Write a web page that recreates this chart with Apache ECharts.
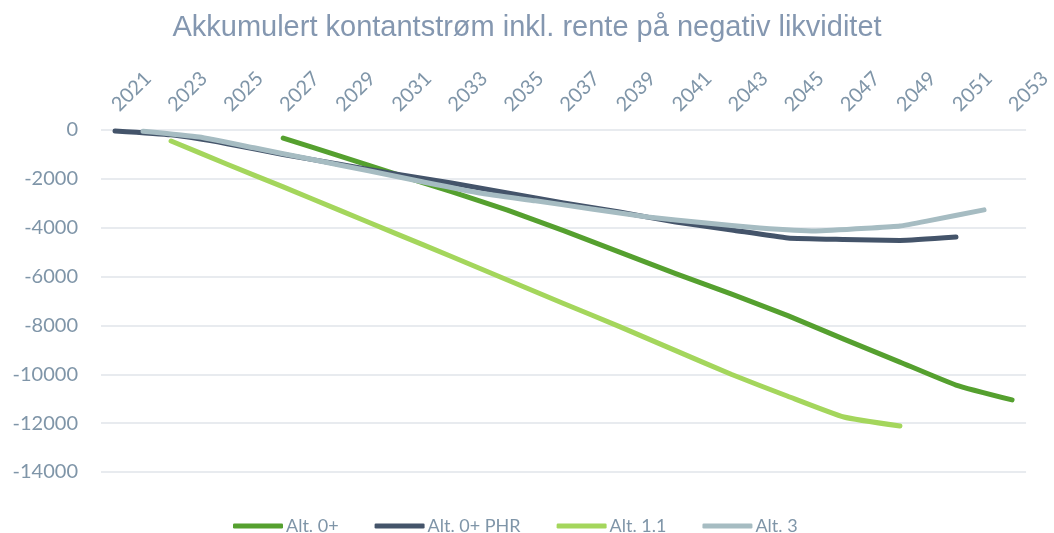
<!DOCTYPE html>
<html>
<head>
<meta charset="utf-8">
<script src="https://cdn.jsdelivr.net/npm/echarts@6/dist/echarts.min.js"></script>
<style>
  html, body { margin: 0; padding: 0; background: #fff; }
  #chart { width: 1054px; height: 533px; }
</style>
</head>
<body>
<div id="chart"></div>
<script>
const years = []
for (let y = 2021; y <= 2053; y++) years.push(String(y))

const seriesNames = ['Alt. 0+', 'Alt. 0+ PHR', 'Alt. 1.1', 'Alt. 3']
const seriesColors = ['#55a02f', '#44546a', '#a4d65c', '#a6bcc2']

// verdier lest av bildet, null = ikke avlest / ingen data
const alt0 = [
  null, null, null, null, null, null,
  -330, null, -1060, null, -1800, null, -2520, null, -3280, null, -4120, null,
  -5000, null, -5880, null, -6720, null, -7600, null, -8560, null, -9500, null,
  -10440, null, -11050
]
const alt0phr = [
  -40, null, -200, null, -560, null, -1000, null, -1400, null, -1800, null,
  -2170, null, -2580, null, -2990, null, -3360, null, -3770, null, -4090, null,
  -4420, null, -4480, null, -4520, null, -4380, null, null
]
const alt11 = [
  null, null, -450, null, -1400, null, -2330, null, -3280, null, -4230, null,
  -5180, null, -6140, null, -7100, null, -8050, null, -9030, null, -10010, null,
  -10900, null, -11750, null, -12120, null, null, null, null
]
const alt3 = [
  null, -50, null, -290, null, -740, null, -1200, null, -1660, null, -2130,
  null, -2580, null, -2900, null, -3230, null, -3560, null, -3800, null, -4010,
  null, -4130, null, -4010, -3930, -3720, null, -3270, null
]
const seriesData = [alt0, alt0phr, alt11, alt3]

const textColor = '#7f95a8'
const font = 'Lato'

const chart = echarts.init(document.getElementById('chart'))
chart.setOption({
  title: {
    text: 'Akkumulert kontantstrøm inkl. rente på negativ likviditet',
    left: 'center',
    top: 8,
    textStyle: {
      fontFamily: 'Liberation Sans',
      fontSize: 29,
      fontWeight: 'normal',
      color: '#8497b0'
    }
  },
  legend: {
    data: seriesNames,
    left: 228,
    top: 512,
    icon: 'roundRect',
    itemWidth: 50,
    itemHeight: 5,
    itemGap: 36,
    textStyle: { color: textColor, fontSize: 18, fontFamily: font, padding: [0, 0, 0, -2] }
  },
  grid: { left: 101, right: 24, top: 130, bottom: 61 },
  xAxis: {
    type: 'category',
    position: 'top',
    data: years,
    boundaryGap: true,
    axisLine: { show: false },
    axisTick: { show: false },
    axisLabel: {
      interval: 1,
      rotate: 45,
      margin: 22,
      color: textColor,
      fontSize: 20,
      fontFamily: font
    }
  },
  yAxis: {
    type: 'value',
    min: -14000,
    max: 0,
    interval: 2000,
    axisLine: { show: false },
    axisTick: { show: false },
    axisLabel: {
      margin: 23,
      color: textColor,
      fontSize: 20,
      fontFamily: font,
      formatter: v => String(v)
    },
    splitLine: { lineStyle: { color: '#e1e5ea', width: 1.5 } }
  },
  series: seriesNames.map((name, i) => ({
    name,
    type: 'line',
    data: seriesData[i],
    connectNulls: true,
    smooth: 0.15,
    symbol: 'none',
    color: seriesColors[i],
    lineStyle: { width: 5, color: seriesColors[i], cap: 'round', join: 'round' }
  }))
})
</script>
</body>
</html>
